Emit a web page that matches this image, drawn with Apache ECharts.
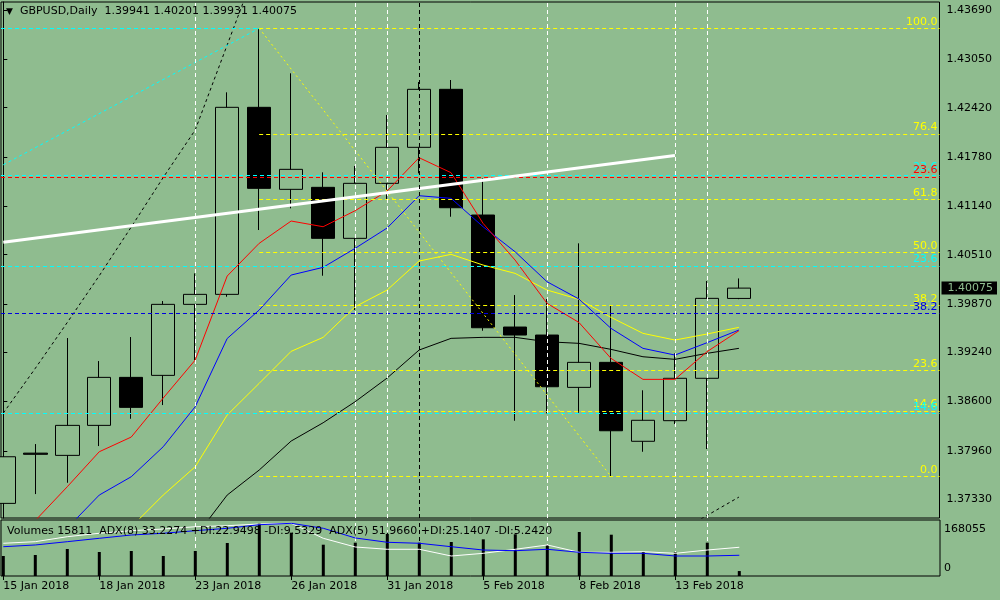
<!DOCTYPE html>
<html>
<head>
<meta charset="utf-8">
<title>GBPUSD,Daily</title>
<script src="https://cdn.jsdelivr.net/npm/echarts@6.0.0/dist/echarts.min.js"></script>
<style>
html, body { margin: 0; padding: 0; background: #8fbc8f; }
#chart { width: 1000px; height: 600px; }
</style>
</head>
<body>
<div id="chart"></div>
<script>
// bars
var dates = ['15 Jan 2018', '16 Jan 2018', '17 Jan 2018', '18 Jan 2018', '19 Jan 2018', '22 Jan 2018',
	'23 Jan 2018', '24 Jan 2018', '25 Jan 2018', '26 Jan 2018', '29 Jan 2018', '30 Jan 2018',
	'31 Jan 2018', '1 Feb 2018', '2 Feb 2018', '5 Feb 2018', '6 Feb 2018', '7 Feb 2018',
	'8 Feb 2018', '9 Feb 2018', '12 Feb 2018', '13 Feb 2018', '14 Feb 2018', '15 Feb 2018'];
var opens = [1.37277, 1.37930, 1.37901, 1.38291, 1.38915, 1.38941, 1.39864, 1.39994, 1.42425, 1.41359, 1.41385, 1.40722,
	1.41437, 1.41905, 1.42659, 1.41025, 1.39569, 1.39465, 1.38785, 1.39110, 1.38084, 1.38352, 1.38903, 1.39941];
var closes = [1.37883, 1.37915, 1.38291, 1.38915, 1.38525, 1.39864, 1.39994, 1.42425, 1.41372, 1.41619, 1.40722, 1.41437,
	1.41905, 1.42659, 1.41120, 1.39560, 1.39465, 1.38793, 1.39110, 1.38221, 1.38357, 1.38903, 1.39942, 1.40075];
var lows = [1.37255, 1.37398, 1.37545, 1.38022, 1.38377, 1.38555, 1.39140, 1.39963, 1.40830, 1.41112, 1.40236, 1.39790,
	1.41220, 1.41567, 1.41003, 1.39521, 1.38351, 1.38447, 1.38455, 1.37628, 1.37948, 1.38308, 1.37983, 1.39931];
var highs = [1.38191, 1.38048, 1.39426, 1.39127, 1.39439, 1.39907, 1.40267, 1.42620, 1.43452, 1.42867, 1.41580, 1.41662,
	1.42325, 1.42754, 1.42780, 1.41502, 1.39985, 1.39933, 1.40657, 1.39855, 1.38747, 1.39227, 1.40167, 1.40201];
var volumes = [63800, 67000, 86100, 76500, 79700, 63800, 79700, 105200, 168055, 138100, 99800, 106200,
	133900, 106200, 108400, 117000, 133000, 98900, 140300, 131700, 76500, 75600, 106200, 15811];

// moving averages (null = off the visible part of the chart)
var maRed = [null, 1.37054, 1.37493, 1.37948, 1.38139, 1.38646, 1.39140, 1.40232, 1.40657, 1.40947, 1.40873, 1.41081,
	1.41337, 1.41770, 1.41575, 1.40917, 1.40440, 1.39877, 1.39628, 1.39162, 1.38889, 1.38889, 1.39248, 1.39521];
var maBlue = [null, null, 1.36956, 1.37385, 1.37623, 1.38013, 1.38533, 1.39420, 1.39790, 1.40245, 1.40345, 1.40592,
	1.40856, 1.41276, 1.41242, 1.40873, 1.40548, 1.40158, 1.39933, 1.39552, 1.39292, 1.39205, 1.39365, 1.39530];
var maYellow = [null, null, null, null, 1.36969, 1.37385, 1.37753, 1.38425, 1.38837, 1.39253, 1.39435, 1.39833,
	1.40050, 1.40427, 1.40514, 1.40375, 1.40267, 1.40050, 1.39929, 1.39695, 1.39487, 1.39400, 1.39478, 1.39565];
var maBlack = [null, null, null, null, null, null, 1.36839, 1.37385, 1.37710, 1.38087, 1.38325, 1.38598,
	1.38906, 1.39270, 1.39422, 1.39435, 1.39435, 1.39378, 1.39357, 1.39279, 1.39183, 1.39149, 1.39227, 1.39292];
var bandUpper = [1.38451, 1.39032, 1.39628, 1.40236, 1.40869, 1.41513, 1.42130, 1.43235, 1.44340, null, null, null,
	null, null, null, null, null, null, null, null, null, null, null, null];
var bandLower = [null, null, null, null, null, null, null, null, null, null, null, null,
	null, null, null, null, null, null, null, null, null, 1.36878, 1.37119, 1.37359];

// ADX lines of the lower window
var adx8 = [52.3, 55.4, 61.3, 67.3, 73.2, 76.3, 80.9, 85.2, 91.6, 94.1, 85.2, 67.9,
	60.2, 58.4, 52.3, 46.4, 45.2, 47.7, 42.3, 40.5, 40.5, 35.7, 35.7, 37.0];
var adx5 = [58.4, 61.3, 70.2, 76.3, 80.9, 83.9, 88.0, 89.8, 92.9, 94.1, 67.3, 51.8,
	47.7, 47.7, 35.7, 40.5, 47.7, 55.4, 42.3, 42.3, 43.4, 40.5, 46.4, 51.3];
var adxText = 'ADX(8) 33.2274 +DI:22.9498 -DI:9.5329  ADX(5) 51.9660 +DI:25.1407 -DI:5.2420';

// axes
var yTicks = [1.43690, 1.43050, 1.42420, 1.41780, 1.41140, 1.40510, 1.39870, 1.39240, 1.38600, 1.37960, 1.37330];
var dateTicks = [0, 3, 6, 9, 12, 15, 18, 21];

// objects on the chart
var fibHigh = 1.43452, fibLow = 1.37628;
var fibLevels = [100, 76.4, 61.8, 50, 38.2, 23.6, 14.6, 0];
var cyanLevels = [1.41539, 1.40362, 1.38451];
var cyanLabels = ['23.6', '23.6', '14.6'];
var redLevel = 1.41519, blueLevel = 1.39747;
var trendLine = [[0, 1.40670], [21, 1.41799]];
var cyanDiag = [[0, 1.41678], [8, fibHigh]];
var whiteVLines = [6, 11, 12, 17, 21, 22];
var blackVLines = [13];

var BG = '#8fbc8f';
var FONT = 'DejaVu Sans';
var last = dates.length - 1;

// 32 px per bar, first bar 2.3 px right of the frame
var XMIN = -2.3 / 32;
var XMAX = XMIN + 939 / 32;
var pxPrice = (yTicks[0] - yTicks[yTicks.length - 1]) / 489.3;
var YMAX = yTicks[0] + 8 * pxPrice;
var YMIN = yTicks[yTicks.length - 1] - 18.7 * pxPrice;
var VOLMAX = Math.max.apply(null, volumes) * 56 / 52.7;

var chart = echarts.init(document.getElementById('chart'));

function toXY(arr) {
	var out = [];
	arr.forEach(function (v, i) {
		if (v != null) out.push([i, v]);
	});
	return out;
}

function hLine(x0, x1, price, color, text, dy) {
	return [{
		coord: [x0, price],
		lineStyle: { color: color, type: [4, 3], width: 1 },
		label: {
			show: !!text, formatter: text || '', color: color, position: 'insideEndTop',
			distance: [2, dy || 0], fontSize: 11, fontFamily: FONT, lineHeight: 13
		}
	}, { coord: [x1, price] }];
}

function vLines() {
	var res = [];
	whiteVLines.forEach(function (i) {
		res.push({ xAxis: i, lineStyle: { color: '#fff', type: [4, 3], width: 1 } });
	});
	blackVLines.forEach(function (i) {
		res.push({ xAxis: i, lineStyle: { color: '#000', type: [4, 3], width: 1 } });
	});
	return res;
}

var mainMarks = [];
fibLevels.forEach(function (lv) {
	var p = fibLow + (fibHigh - fibLow) * lv / 100;
	mainMarks.push(hLine(8, XMAX, p, '#ffff00', lv.toFixed(1)));
});
mainMarks.push(hLine(XMIN, 8, fibHigh, '#00ffff', ''));
cyanLevels.forEach(function (p, i) {
	mainMarks.push(hLine(XMIN, XMAX, p, '#00ffff', cyanLabels[i], i === 0 ? 2 : (i === 2 ? -1 : 0)));
});
mainMarks.push(hLine(XMIN, XMAX, redLevel, '#ff0000', '23.6'));
mainMarks.push(hLine(XMIN, XMAX, blueLevel, '#0000e0', '38.2'));
mainMarks.push([
	{ coord: [8, fibHigh], lineStyle: { color: '#ffff00', type: [2, 3], width: 1 } },
	{ coord: [19, fibLow] }
]);
mainMarks.push([
	{ coord: cyanDiag[0], lineStyle: { color: '#00ffff', type: [3, 3], width: 1 } },
	{ coord: cyanDiag[1] }
]);
mainMarks.push([
	{ coord: trendLine[0], lineStyle: { color: '#ffffff', type: 'solid', width: 3 } },
	{ coord: trendLine[1] }
]);
mainMarks = mainMarks.concat(vLines());

function maSeries(name, arr, color, dash) {
	return {
		name: name, type: 'line', xAxisIndex: 0, yAxisIndex: 0,
		data: toXY(arr), showSymbol: false, silent: true, z: 3,
		lineStyle: { color: color, width: 1, type: dash || 'solid' }
	};
}

var candleData = dates.map(function (d, i) {
	return [i, opens[i], closes[i], lows[i], highs[i]];
});

var headText = '{t|\u25bc}  GBPUSD,Daily  ' +
	[opens[last], highs[last], lows[last], closes[last]].map(function (v) { return v.toFixed(5); }).join(' ');

option = {
	backgroundColor: BG,
	animation: false,
	textStyle: { fontFamily: FONT },
	title: [{
		left: 6, top: 6, padding: 0,
		text: headText,
		textStyle: {
			fontSize: 11, fontWeight: 'normal', color: '#000', fontFamily: FONT,
			rich: { t: { fontSize: 9, color: '#000', fontFamily: FONT } }
		}
	}, {
		left: 7, top: 526, padding: 0,
		text: 'Volumes ' + volumes[last] + '  ' + adxText,
		textStyle: { fontSize: 11, fontWeight: 'normal', color: '#000', fontFamily: FONT }
	}],
	grid: [
		{ left: 1, top: 2, right: 60, bottom: 82, show: true, borderColor: '#000', borderWidth: 1, backgroundColor: 'transparent' },
		{ left: 1, top: 520, right: 60, bottom: 24, show: true, borderColor: '#000', borderWidth: 1, backgroundColor: 'transparent' }
	],
	xAxis: [{
		type: 'value', gridIndex: 0, min: XMIN, max: XMAX, show: false
	}, {
		type: 'value', gridIndex: 1, min: XMIN, max: XMAX,
		axisLine: { show: false },
		splitLine: { show: false },
		axisTick: { show: true, customValues: dateTicks, length: 4, lineStyle: { color: '#000' } },
		axisLabel: {
			customValues: dateTicks, align: 'left', margin: 5, color: '#000', fontSize: 11, fontFamily: FONT,
			formatter: function (v) { return dates[Math.round(v)]; }
		}
	}],
	yAxis: [{
		type: 'value', gridIndex: 0, position: 'right', min: YMIN, max: YMAX,
		splitLine: { show: false },
		axisLine: { show: true, lineStyle: { color: '#000' } },
		axisTick: { show: true, customValues: yTicks, length: 4, lineStyle: { color: '#000' } },
		axisLabel: {
			customValues: yTicks, margin: 7, color: '#000', fontSize: 11, fontFamily: FONT,
			formatter: function (v) { return v.toFixed(5); }
		}
	}, {
		// current price marker
		type: 'value', gridIndex: 0, position: 'right', min: YMIN, max: YMAX,
		splitLine: { show: false }, axisLine: { show: false }, axisTick: { show: false },
		axisLabel: {
			customValues: [closes[last]], margin: 2, color: BG, backgroundColor: '#000',
			padding: [0, 4, 0, 6], lineHeight: 13, fontSize: 11, fontFamily: FONT,
			formatter: function (v) { return v.toFixed(5); }
		}
	}, {
		type: 'value', gridIndex: 1, position: 'right', min: 0, max: VOLMAX,
		splitLine: { show: false }, axisLine: { show: false }, axisTick: { show: false },
		axisLabel: {
			customValues: [0, Math.max.apply(null, volumes)], margin: 4,
			formatter: function (v) { return v === 0 ? '{lo|0}' : '{hi|' + v + '}'; },
			rich: {
				hi: { fontSize: 11, fontFamily: FONT, color: '#000', padding: [12, 0, 0, 0] },
				lo: { fontSize: 11, fontFamily: FONT, color: '#000', padding: [0, 0, 15, 0] }
			}
		}
	}, {
		type: 'value', gridIndex: 1, position: 'right', min: 0, max: 100, show: false
	}],
	series: [{
		name: 'GBPUSD', type: 'candlestick', xAxisIndex: 0, yAxisIndex: 0,
		data: candleData, barWidth: 24, silent: true, clip: true,
		itemStyle: { color: BG, color0: '#000', borderColor: '#000', borderColor0: '#000', borderWidth: 1 },
		markLine: {
			silent: true, symbol: ['none', 'none'], animation: false,
			label: { show: false },
			data: mainMarks
		}
	},
		maSeries('MA black', maBlack, '#000000'),
		maSeries('MA yellow', maYellow, '#ffff00'),
		maSeries('MA blue', maBlue, '#0000ff'),
		maSeries('MA red', maRed, '#ff0000'),
		maSeries('Band upper', bandUpper, '#000000', [3, 3]),
		maSeries('Band lower', bandLower, '#000000', [3, 3]),
	{
		// separators of the lower window, kept behind the volume bars
		name: 'Separators', type: 'line', xAxisIndex: 1, yAxisIndex: 2, data: [], z: 1,
		markLine: {
			silent: true, symbol: ['none', 'none'], animation: false, z: 1,
			label: { show: false },
			data: vLines()
		}
	}, {
		name: 'Volumes', type: 'bar', xAxisIndex: 1, yAxisIndex: 2,
		data: toXY(volumes), barWidth: 3, silent: true, z: 4,
		itemStyle: { color: '#000' }
	}, {
		name: 'ADX(5)', type: 'line', xAxisIndex: 1, yAxisIndex: 3,
		data: toXY(adx5), showSymbol: false, silent: true, z: 5,
		lineStyle: { color: '#ffffff', width: 1 }
	}, {
		name: 'ADX(8)', type: 'line', xAxisIndex: 1, yAxisIndex: 3,
		data: toXY(adx8), showSymbol: false, silent: true, z: 5,
		lineStyle: { color: '#0000ff', width: 1 }
	}]
};
chart.setOption(option);
</script>
</body>
</html>
